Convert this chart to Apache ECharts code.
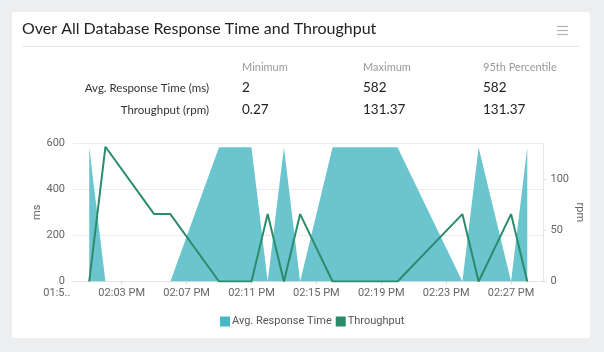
<!DOCTYPE html>
<html>
<head>
<meta charset="utf-8">
<script src="https://cdn.jsdelivr.net/npm/echarts@6/dist/echarts.min.js"></script>
<style>
  html, body { margin: 0; padding: 0; background: #edeef0; }
  #main { width: 604px; height: 352px; }
</style>
</head>
<body>
<div id="main"></div>
<script>
// x values are minutes counted from 01:59 PM
var tickValues = [0, 4, 8, 12, 16, 20, 24, 28];
var tickLabels = ['01:5..', '02:03 PM', '02:07 PM', '02:11 PM', '02:15 PM', '02:19 PM', '02:23 PM', '02:27 PM'];

// Avg. Response Time (ms)
var respTime = [[2, 582], [3, 0], [7, 0], [10, 582], [12, 582], [13, 0], [14, 582], [15, 0],
  [17, 582], [21, 582], [25, 0], [26, 582], [28, 0], [29, 582]];
// Throughput (rpm)
var throughput = [[2, 0], [3, 131.37], [6, 65.69], [7, 65.69], [10, 0], [12, 0], [13, 65.69], [14, 0],
  [15, 65.69], [17, 0], [21, 0], [25, 65.69], [26, 0], [28, 65.69], [29, 0]];

// summary table
var statHeaders = ['Minimum', 'Maximum', '95th Percentile'];
var statRows = ['Avg. Response Time (ms)', 'Throughput (rpm)'];
var statValues = [['2', '582', '582'], ['0.27', '131.37', '131.37']];

var chart = echarts.init(document.getElementById('main'));

var font = 'Lato, "Noto Sans", sans-serif';
var colX = [242, 363, 483];
var rowY = [88, 110];

var graphics = [
  // card
  { type: 'rect', shape: { x: 12, y: 12, width: 578, height: 326, r: 2 }, style: { fill: '#fff' }, z: -10 },
  // separator under title
  { type: 'line', shape: { x1: 22, y1: 46.5, x2: 580, y2: 46.5 }, style: { stroke: '#e6e6e6', lineWidth: 1 } }
];
// menu icon
[26, 30, 34].forEach(function (y) {
  graphics.push({ type: 'line', shape: { x1: 557, y1: y + 0.5, x2: 568, y2: y + 0.5 }, style: { stroke: '#b4b4b4', lineWidth: 1.2 } });
});
statHeaders.forEach(function (h, i) {
  graphics.push({ type: 'text', x: colX[i], y: 67, style: { text: h, fill: '#999', font: '11px ' + font, verticalAlign: 'middle' } });
});
statRows.forEach(function (r, j) {
  graphics.push({ type: 'text', x: 209, y: rowY[j], style: { text: r, fill: '#333', font: '11.5px ' + font, align: 'right', verticalAlign: 'middle' } });
  statValues[j].forEach(function (v, i) {
    graphics.push({ type: 'text', x: colX[i], y: rowY[j], style: { text: v, fill: '#222', font: '13.5px ' + font, verticalAlign: 'middle' } });
  });
});

var option = {
  animation: false,
  title: {
    text: 'Over All Database Response Time and Throughput',
    left: 22, top: 21, padding: 0,
    textStyle: { fontFamily: font, fontSize: 16, fontWeight: 'normal', color: '#222' }
  },
  graphic: graphics,
  legend: {
    left: 220, top: 316, padding: 0,
    itemWidth: 10, itemHeight: 10, itemGap: 4,
    icon: 'rect',
    textStyle: { fontFamily: 'Roboto', fontSize: 11, color: '#555', padding: [0, 0, 0, -3] },
    data: ['Avg. Response Time', 'Throughput']
  },
  grid: [
    { left: 73, right: 60.5, top: 143, bottom: 70.5 },
    { left: 56.8, right: 60.5, top: 143, bottom: 70.5 }
  ],
  xAxis: [
    {
      type: 'value', gridIndex: 0, min: 1, max: 30,
      axisLine: { lineStyle: { color: '#e3e3e3' } },
      axisTick: { show: false }, axisLabel: { show: false }, splitLine: { show: false }
    },
    {
      type: 'value', gridIndex: 1, min: 0, max: 30,
      axisLine: { show: false },
      axisTick: { show: true, length: 3, lineStyle: { color: '#d8d8d8' }, customValues: tickValues },
      axisLabel: {
        color: '#666', fontFamily: 'Roboto', fontSize: 11, margin: 6, customValues: tickValues,
        formatter: function (v) { return tickLabels[tickValues.indexOf(v)] || ''; }
      },
      splitLine: { show: false }
    }
  ],
  yAxis: [
    {
      type: 'value', gridIndex: 0, min: 0, max: 600, interval: 200,
      name: 'ms', nameLocation: 'middle', nameGap: 30, nameMoveOverlap: false,
      nameTextStyle: { color: '#666', fontFamily: 'Roboto', fontSize: 11 },
      axisLine: { show: false }, axisTick: { show: false },
      axisLabel: { color: '#666', fontFamily: 'Roboto', fontSize: 11, margin: 8 },
      splitLine: { lineStyle: { color: '#ececec' } }
    },
    {
      type: 'value', gridIndex: 0, position: 'right', min: 0, max: 135, interval: 50,
      name: 'rpm', nameLocation: 'middle', nameGap: 31, nameRotate: -90, nameMoveOverlap: false,
      nameTextStyle: { color: '#666', fontFamily: 'Roboto', fontSize: 11 },
      axisLine: { show: true, lineStyle: { color: '#e6e6e6' } },
      axisTick: { show: true, length: 3, lineStyle: { color: '#e0e0e0' } },
      axisLabel: { color: '#666', fontFamily: 'Roboto', fontSize: 11, margin: 7, showMaxLabel: false },
      splitLine: { show: false }
    },
    { type: 'value', gridIndex: 1, show: false, min: 0, max: 600 }
  ],
  series: [
    {
      name: 'Avg. Response Time', type: 'line', xAxisIndex: 0, yAxisIndex: 0,
      data: respTime, symbol: 'none',
      itemStyle: { color: '#45b9c6' },
      lineStyle: { width: 0 },
      areaStyle: { color: '#6bc5cf', opacity: 1 }
    },
    {
      name: 'Throughput', type: 'line', xAxisIndex: 0, yAxisIndex: 1,
      data: throughput, symbol: 'none',
      itemStyle: { color: '#2b8c6b' },
      lineStyle: { width: 2, color: '#2b8c6b' }
    }
  ]
};

chart.setOption(option);
</script>
</body>
</html>
